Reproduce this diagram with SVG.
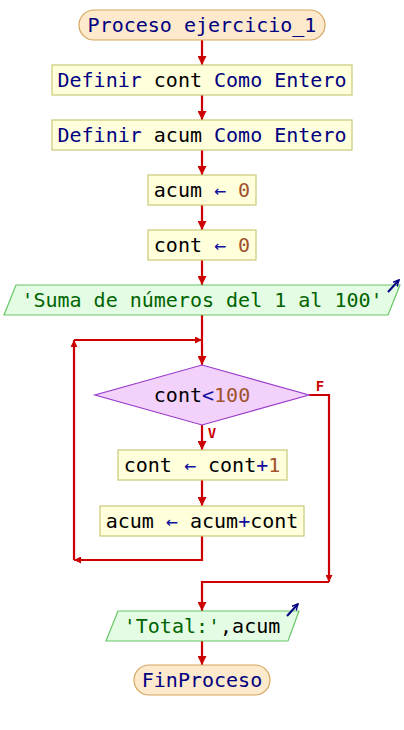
<svg xmlns="http://www.w3.org/2000/svg" width="404" height="730" viewBox="0 0 404 730">
<style>
text{font-family:"DejaVu Sans Mono","Liberation Mono",monospace;font-size:20px;text-anchor:middle}
.term{fill:#fde9cc;stroke:#d4a55c;stroke-width:1.2}
.box{fill:#ffffdc;stroke:#c8c878;stroke-width:1.2}
.io{fill:#e4fce4;stroke:#66c666;stroke-width:1.2}
.dec{fill:#f2d2fa;stroke:#9a3ccc;stroke-width:1.2}
.kw{fill:#000080}
.id{fill:#000000}
.num{fill:#a0522d}
.op{fill:#1010a0}
.str{fill:#006400}
.c line,.c polyline{stroke:#cc0000;stroke-width:2.2;fill:none}
.lbl{fill:#cc0000;font-size:14px;font-weight:bold}
.ico{stroke:#000080;stroke-width:2}
</style>
<defs>
<marker id="ah" viewBox="0 0 8 8" refX="8" refY="4" markerWidth="9" markerHeight="9" markerUnits="userSpaceOnUse" orient="auto"><path d="M0,0 L8,4 L0,8 z" fill="#cc0000"/></marker>
<marker id="as" viewBox="0 0 8 8" refX="8" refY="4" markerWidth="7" markerHeight="7" markerUnits="userSpaceOnUse" orient="auto"><path d="M0,0 L8,4 L0,8 z" fill="#cc0000"/></marker>
<marker id="ai" viewBox="0 0 8 8" refX="7" refY="4" markerWidth="7" markerHeight="7" markerUnits="userSpaceOnUse" orient="auto"><path d="M0,0.5 L7,4 L0,7.5" fill="none" stroke="#000080" stroke-width="1.6"/></marker>
</defs>
<g class="c" id="connectors">
<line x1="202" y1="40" x2="202" y2="65" marker-end="url(#ah)"/>
<line x1="202" y1="95" x2="202" y2="120" marker-end="url(#ah)"/>
<line x1="202" y1="150" x2="202" y2="175" marker-end="url(#ah)"/>
<line x1="202" y1="205" x2="202" y2="230" marker-end="url(#ah)"/>
<line x1="202" y1="260" x2="202" y2="285" marker-end="url(#ah)"/>
<line x1="202" y1="315" x2="202" y2="365" marker-end="url(#ah)"/>
<line x1="202" y1="425" x2="202" y2="450" marker-end="url(#ah)"/>
<line x1="202" y1="480" x2="202" y2="506" marker-end="url(#ah)"/>
<polyline points="202,536 202,560 74,560" marker-end="url(#as)"/>
<line x1="74" y1="560" x2="74" y2="340" marker-end="url(#as)"/>
<line x1="74" y1="340" x2="202" y2="340" marker-end="url(#as)"/>
<polyline points="309,395 329,395 329,582" marker-end="url(#as)"/>
<polyline points="329,582 202,582 202,611" marker-end="url(#ah)"/>
<line x1="202" y1="641" x2="202" y2="665" marker-end="url(#ah)"/>
</g>
<text class="lbl" x="320" y="391">F</text>
<text class="lbl" x="212" y="438">V</text>
<g id="start">
<rect class="term" x="79" y="10" width="246" height="30" rx="15" ry="15"/>
<text x="202" y="32" class="kw">Proceso ejercicio_1</text>
</g>
<g id="def_cont">
<rect class="box" x="52" y="65" width="300" height="30"/>
<text x="202" y="87"><tspan class="kw">Definir </tspan><tspan class="id">cont</tspan><tspan class="kw"> Como Entero</tspan></text>
</g>
<g id="def_acum">
<rect class="box" x="52" y="120" width="300" height="30"/>
<text x="202" y="142"><tspan class="kw">Definir </tspan><tspan class="id">acum</tspan><tspan class="kw"> Como Entero</tspan></text>
</g>
<g id="acum0">
<rect class="box" x="148" y="175" width="108" height="30"/>
<text x="202" y="197"><tspan class="id">acum </tspan><tspan class="op">←</tspan><tspan class="num"> 0</tspan></text>
</g>
<g id="cont0">
<rect class="box" x="148" y="230" width="108" height="30"/>
<text x="202" y="252"><tspan class="id">cont </tspan><tspan class="op">←</tspan><tspan class="num"> 0</tspan></text>
</g>
<g id="out1">
<polygon class="io" points="16,285 400,285 388,315 4,315"/>
<line class="ico" x1="388" y1="292" x2="399" y2="280" marker-end="url(#ai)"/>
<text x="202" y="307" class="str">'Suma de números del 1 al 100'</text>
</g>
<g id="cond">
<polygon class="dec" points="202,365 309,395 202,425 95,395"/>
<text x="202" y="402"><tspan class="id">cont</tspan><tspan class="op">&lt;</tspan><tspan class="num">100</tspan></text>
</g>
<g id="inc">
<rect class="box" x="118" y="450" width="169" height="30"/>
<text x="202" y="472"><tspan class="id">cont </tspan><tspan class="op">←</tspan><tspan class="id"> cont</tspan><tspan class="op">+</tspan><tspan class="num">1</tspan></text>
</g>
<g id="sum">
<rect class="box" x="100" y="506" width="204" height="30"/>
<text x="202" y="528"><tspan class="id">acum </tspan><tspan class="op">←</tspan><tspan class="id"> acum</tspan><tspan class="op">+</tspan><tspan class="id">cont</tspan></text>
</g>
<g id="out2">
<polygon class="io" points="118,611 299,611 288,641 106,641"/>
<line class="ico" x1="287" y1="616" x2="298" y2="604" marker-end="url(#ai)"/>
<text x="202" y="633"><tspan class="str">'Total:'</tspan><tspan class="id">,acum</tspan></text>
</g>
<g id="end">
<rect class="term" x="134" y="665" width="136" height="30" rx="15" ry="15"/>
<text x="202" y="687" class="kw">FinProceso</text>
</g>
</svg>
